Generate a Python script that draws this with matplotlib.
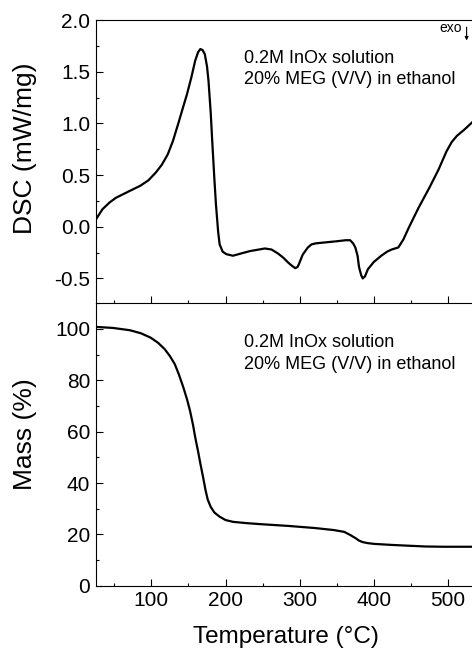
import matplotlib.pyplot as plt
from matplotlib.ticker import MultipleLocator

plt.rcParams['font.family'] = ['Liberation Sans', 'DejaVu Sans']

# DSC curve
dsc_T = [25, 34, 43.5, 52, 62, 73, 85, 96, 106, 114, 122, 129, 136, 142, 148, 154,
         159, 163, 166, 169, 172, 175, 177, 180, 182, 185, 187, 190, 192, 196, 201,
         210, 220, 233, 245, 253, 262, 271, 278, 285, 290, 294, 297, 299, 304, 311,
         316, 322, 336, 350, 362, 368, 372, 375, 378, 380, 383, 385, 388, 392, 400,
         410, 418, 424, 433, 440, 447, 460, 475, 487, 498, 505, 512, 522, 531, 544]
dsc_v = [0.07, 0.17, 0.235, 0.28, 0.316, 0.355, 0.397, 0.45, 0.526, 0.60, 0.70, 0.83,
         0.994, 1.14, 1.284, 1.45, 1.607, 1.69, 1.72, 1.71, 1.67, 1.55, 1.41, 1.10, 0.83,
         0.45, 0.22, -0.05, -0.17, -0.24, -0.265, -0.28, -0.26, -0.235, -0.22, -0.21,
         -0.22, -0.26, -0.30, -0.35, -0.38, -0.40, -0.39, -0.36, -0.27, -0.20, -0.17,
         -0.16, -0.15, -0.14, -0.13, -0.13, -0.16, -0.20, -0.28, -0.39, -0.47, -0.50,
         -0.48, -0.41, -0.34, -0.28, -0.24, -0.22, -0.20, -0.12, -0.01, 0.18, 0.38,
         0.55, 0.73, 0.82, 0.88, 0.94, 1.00, 1.09]

# TGA curve
tga_T = [25, 48, 71, 86, 99, 109, 118, 125, 131.5, 137, 143, 148, 152, 156, 159, 163,
         166, 170, 173, 176, 180, 185, 192, 200, 210, 228, 247, 285, 320, 346, 360,
         368, 375, 380, 385, 392, 401, 425, 447, 470, 493, 520, 544]
tga_m = [100.8, 100.4, 99.5, 98.3, 96.6, 94.6, 92.1, 89.4, 86.3, 82.3, 77.3, 72.6,
         68.2, 62.8, 57.9, 52.2, 47.6, 41.8, 37.2, 33.5, 30.7, 28.5, 26.9, 25.6, 24.9,
         24.4, 24.0, 23.3, 22.5, 21.7, 21.0, 19.8, 18.6, 17.6, 17.0, 16.6, 16.3, 15.9,
         15.6, 15.3, 15.2, 15.2, 15.2]

line1 = "0.2M InOx solution"
line2 = "20% MEG (V/V) in ethanol"

fig = plt.figure(figsize=(4.72, 6.48), dpi=100)
ax1 = fig.add_axes([0.203, 0.532, 0.82, 0.437])
ax2 = fig.add_axes([0.203, 0.096, 0.82, 0.436], sharex=ax1)
ax2.patch.set_visible(False)

ax1.plot(dsc_T, dsc_v, color='black', lw=1.6)
ax2.plot(tga_T, tga_m, color='black', lw=1.6)

ax1.set_xlim(25, 547)
ax1.set_ylim(-0.74, 2.0)
ax2.set_ylim(0, 110)

for ax in (ax1, ax2):
    ax.spines['right'].set_visible(False)
    ax.xaxis.set_major_locator(MultipleLocator(100))
    ax.xaxis.set_minor_locator(MultipleLocator(50))
    ax.tick_params(which='major', direction='in', length=5, width=0.8, labelsize=15, pad=4)
    ax.tick_params(which='minor', direction='in', length=2.5, width=0.8)
ax2.spines['top'].set_visible(False)

ax1.set_yticks([-0.5, 0.0, 0.5, 1.0, 1.5, 2.0])
ax1.set_yticklabels(['-0.5', '0.0', '0.5', '1.0', '1.5', '2.0'])
ax1.yaxis.set_minor_locator(MultipleLocator(0.25))
ax1.tick_params(axis='x', labelbottom=False)

ax2.yaxis.set_major_locator(MultipleLocator(20))
ax2.yaxis.set_minor_locator(MultipleLocator(10))

ax1.set_ylabel('DSC (mW/mg)', fontsize=19, va='center')
ax2.set_ylabel('Mass (%)', fontsize=19, va='center')
ax2.set_xlabel('Temperature (°C)', fontsize=17.5, va='center')
ax1.yaxis.set_label_coords(-0.183, 0.548)
ax2.yaxis.set_label_coords(-0.183, 0.537)
ax2.xaxis.set_label_coords(0.491, -0.180)

ax1.text(225, 1.588, line1, fontsize=13)
ax1.text(225, 1.384, line2, fontsize=13)
ax2.text(225, 93.0, line1, fontsize=13)
ax2.text(225, 84.5, line2, fontsize=13)

ax1.text(0.945, 0.958, 'exo', fontsize=10, ha='right', va='baseline',
         transform=ax1.transAxes)
ax1.annotate('', xy=(0.958, 0.928), xytext=(0.958, 0.975), xycoords='axes fraction',
             arrowprops=dict(arrowstyle='-|>', color='black', lw=0.8,
                             mutation_scale=5, shrinkA=0, shrinkB=0))

fig.savefig('out.png', dpi=100)
